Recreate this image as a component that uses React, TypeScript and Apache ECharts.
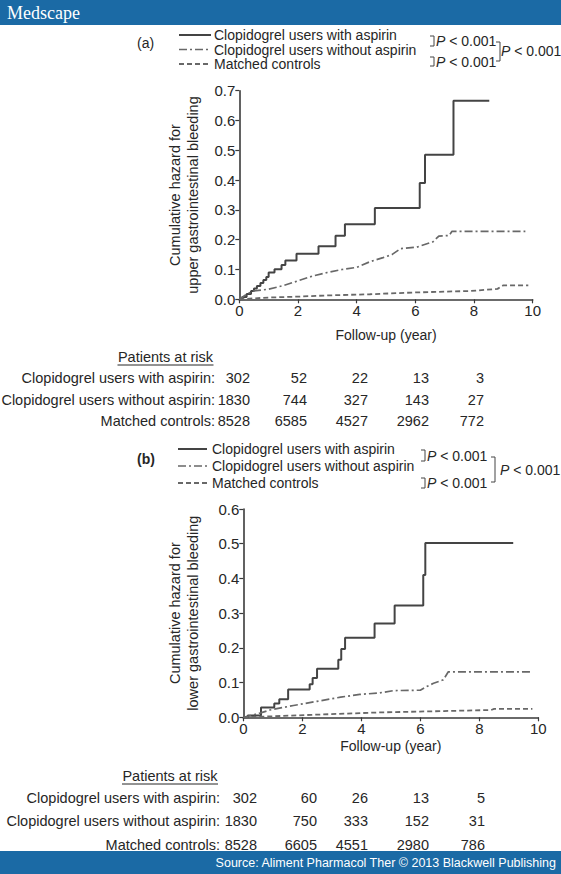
import React, { useEffect, useRef } from "react";
import * as echarts from "echarts";

const FONT = '"Liberation Sans", Arial, Helvetica, sans-serif';
const TXT = "#262626";

// ---- data ----
const groups = [
  "Clopidogrel users with aspirin",
  "Clopidogrel users without aspirin",
  "Matched controls",
];
const pText = "P < 0.001";

// (a) upper GI bleeding
const upperWithAspirin: number[][] = [
  [0, 0], [0.1, 0.008], [0.25, 0.018], [0.4, 0.028], [0.5, 0.036], [0.6, 0.045],
  [0.72, 0.055], [0.82, 0.065], [0.92, 0.075], [1.0, 0.09], [1.2, 0.101], [1.44, 0.115],
  [1.57, 0.13], [1.95, 0.153], [2.7, 0.178], [3.28, 0.213], [3.6, 0.252], [4.62, 0.306],
  [6.15, 0.39], [6.33, 0.485], [7.3, 0.666], [8.52, 0.666],
];
const upperWithoutAspirin: number[][] = [
  [0, 0], [0.3, 0.02], [0.5, 0.028], [1.0, 0.034], [1.5, 0.046], [2.0, 0.062],
  [2.5, 0.078], [3.0, 0.09], [3.5, 0.1], [4.0, 0.107], [4.45, 0.126], [4.9, 0.14],
  [5.2, 0.15], [5.5, 0.17], [6.05, 0.175], [6.6, 0.193], [6.8, 0.212], [7.15, 0.214],
  [7.25, 0.228], [9.75, 0.228],
];
const upperControls: number[][] = [
  [0, 0], [0.5, 0.003], [1, 0.006], [2, 0.009], [3, 0.013], [4.45, 0.017],
  [6, 0.023], [7.9, 0.028], [8.8, 0.035], [9.0, 0.047], [9.85, 0.047],
];
const upperRiskWith = [302, 52, 22, 13, 3];
const upperRiskWithout = [1830, 744, 327, 143, 27];
const upperRiskControls = [8528, 6585, 4527, 2962, 772];

// (b) lower GI bleeding
const lowerWithAspirin: number[][] = [
  [0, 0], [0.15, 0.005], [0.6, 0.028], [1.05, 0.04], [1.22, 0.052], [1.52, 0.08],
  [2.25, 0.095], [2.35, 0.113], [2.5, 0.14], [3.22, 0.166], [3.32, 0.197], [3.45, 0.229],
  [4.45, 0.27], [5.13, 0.322], [6.1, 0.41], [6.17, 0.502], [9.15, 0.502],
];
const lowerWithoutAspirin: number[][] = [
  [0, 0], [0.3, 0.006], [0.56, 0.012], [0.9, 0.021], [1.7, 0.034], [2.5, 0.046],
  [3.3, 0.058], [3.95, 0.066], [4.6, 0.07], [5.1, 0.077], [6.0, 0.078], [6.2, 0.088],
  [6.45, 0.098], [6.78, 0.108], [6.95, 0.131], [9.8, 0.131],
];
const lowerControls: number[][] = [
  [0, 0], [1, 0.003], [2.3, 0.007], [4.6, 0.014], [6.8, 0.018], [8.4, 0.021],
  [8.5, 0.024], [9.8, 0.024],
];
const lowerRiskWith = [302, 60, 26, 13, 5];
const lowerRiskWithout = [1830, 750, 333, 152, 31];
const lowerRiskControls = [8528, 6605, 4551, 2980, 786];

// ---- styles ----
const SOLID = { color: "#444444", width: 2, type: "solid" as any };
const DASHDOT = { color: "#686868", width: 1.7, type: [8, 3, 2, 3] as any };
const DASHED = { color: "#686868", width: 1.8, type: [5, 3] as any };

function txt(x: number, y: number, text: string, o: any = {}) {
  return {
    type: "text",
    x,
    y,
    z: o.z ?? 10,
    style: {
      text,
      fill: o.fill ?? TXT,
      fontSize: o.size ?? 14,
      fontFamily: o.family ?? FONT,
      fontWeight: o.weight ?? "normal",
      align: o.align ?? "left",
      textAlign: o.align ?? "left",
      verticalAlign: "middle",
      textVerticalAlign: "middle",
      rich: o.rich,
    },
  };
}

function pVal(x: number, y: number, size: number) {
  return txt(x, y, "{i|P}" + pText.slice(1), {
    size,
    rich: { i: { fontStyle: "italic", fontSize: size, fontFamily: FONT, fill: TXT } },
  });
}

function bracket(x1: number, x2: number, y1: number, y2: number) {
  return {
    type: "polyline",
    z: 10,
    shape: { points: [[x1, y1], [x2, y1], [x2, y2], [x1, y2]] },
    style: { stroke: "#444", lineWidth: 1, fill: "none" },
  };
}

function sample(x1: number, x2: number, y: number, ls: any) {
  return {
    type: "line",
    z: 10,
    shape: { x1, y1: y, x2, y2: y },
    style: {
      stroke: ls.color,
      lineWidth: ls.width,
      lineDash: Array.isArray(ls.type) ? ls.type : null,
    },
  };
}

function legendBlock(
  tag: string, tagBold: boolean, lineX1: number, lineX2: number, textX: number,
  rows: number[], size: number,
  br: { sx: number; p1y: number; p2y: number; b1: number[]; b2: number[]; bx: number; p3x: number; p3y: number }
) {
  const styles = [SOLID, DASHDOT, DASHED];
  const els: any[] = [txt(137, (rows[0] + rows[1]) / 2 + 1, tag, { size, weight: tagBold ? "bold" : "normal" })];
  groups.forEach((g, i) => {
    els.push(sample(lineX1, lineX2, rows[i], styles[i]));
    els.push(txt(textX, rows[i], g, { size }));
  });
  els.push(bracket(br.sx, br.sx + 4, br.b1[0], br.b1[1]));
  els.push(bracket(br.sx, br.sx + 4, br.b2[0], br.b2[1]));
  els.push(pVal(br.sx + 6, br.p1y, size));
  els.push(pVal(br.sx + 6, br.p2y, size));
  els.push(bracket(br.bx, br.bx + 4, br.p1y + 1, br.p2y - 1));
  els.push(pVal(br.p3x, br.p3y, size));
  return els;
}

function riskTable(
  titleX: number, titleY: number, labelRight: number, numRights: number[], rowsY: number[],
  size: number, vals: number[][]
) {
  const els: any[] = [];
  els.push(txt(titleX, titleY, "Patients at risk", { size, align: "center" }));
  els.push({
    type: "line",
    z: 10,
    shape: { x1: titleX - 48, y1: titleY + 8, x2: titleX + 48, y2: titleY + 8 },
    style: { stroke: TXT, lineWidth: 1 },
  });
  groups.forEach((g, i) => {
    els.push(txt(labelRight, rowsY[i], g + ":", { size, align: "right" }));
    vals[i].forEach((v, j) => {
      els.push(txt(numRights[j], rowsY[i], String(v), { size, align: "right" }));
    });
  });
  return els;
}

function xAxisCfg(gridIndex: number, nameGap: number) {
  return {
    type: "value",
    gridIndex,
    min: 0,
    max: 10,
    interval: 2,
    name: "Follow-up (year)",
    nameLocation: "middle",
    nameGap,
    nameTextStyle: { fontSize: 14, color: TXT, fontFamily: FONT },
    axisLine: { show: true, onZero: false, lineStyle: { color: "#3a3a3a", width: 1.6 } },
    axisTick: { show: true, length: 4, lineStyle: { color: "#3a3a3a", width: 1.2 } },
    axisLabel: { fontSize: 15, color: TXT, fontFamily: FONT, margin: 4 },
    splitLine: { show: false },
  };
}

function yAxisCfg(gridIndex: number, max: number, name: string, nameGap: number) {
  return {
    type: "value",
    gridIndex,
    min: 0,
    max,
    interval: 0.1,
    name,
    nameLocation: "middle",
    nameGap,
    nameTextStyle: { fontSize: 14.5, color: TXT, fontFamily: FONT, lineHeight: 18 },
    axisLine: { show: true, lineStyle: { color: "#3a3a3a", width: 1.6 } },
    axisTick: { show: true, length: 4, lineStyle: { color: "#3a3a3a", width: 1.2 } },
    axisLabel: {
      fontSize: 15,
      color: TXT,
      fontFamily: FONT,
      margin: 4,
      formatter: (v: number) => v.toFixed(1),
    },
    splitLine: { show: false },
  };
}

function line(name: string, data: number[][], ls: any, idx: number, step: boolean) {
  return {
    type: "line",
    name,
    xAxisIndex: idx,
    yAxisIndex: idx,
    data,
    step: step ? "end" : false,
    showSymbol: false,
    symbol: "none",
    lineStyle: ls,
    silent: true,
  };
}

export default function App() {
  const ref = useRef<HTMLDivElement>(null);
  useEffect(() => {
    const chart = echarts.init(ref.current!, null, { renderer: "svg" });
    const graphics: any[] = [
      // header
      { type: "rect", z: 20, shape: { x: 0, y: 0, width: 561, height: 25 }, style: { fill: "#1b6aa5" } },
      txt(7, 13, "Medscape", { size: 18, family: '"Liberation Serif", "Times New Roman", serif', fill: "#fff", z: 21 }),
      // footer
      { type: "rect", z: 20, shape: { x: 0, y: 851, width: 561, height: 23 }, style: { fill: "#1b6aa5" } },
      txt(556, 862.5, "Source: Aliment Pharmacol Ther \u00a9 2013 Blackwell Publishing", {
        size: 12.5, fill: "#fff", align: "right", z: 21,
      }),
      ...legendBlock("(a)", false, 179, 211, 214, [35, 49.5, 64], 14, {
        sx: 430, p1y: 41, p2y: 62, b1: [36, 46], b2: [57, 66], bx: 496, p3x: 501, p3y: 51,
      }),
      ...legendBlock("(b)", true, 178, 207, 212, [449, 466, 483], 14, {
        sx: 421, p1y: 456, p2y: 483, b1: [450, 461], b2: [478, 488], bx: 491, p3x: 500, p3y: 470,
      }),
      ...riskTable(165.5, 357, 215, [250, 307, 368, 429, 484], [378, 400, 421], 14.5, [
        upperRiskWith, upperRiskWithout, upperRiskControls,
      ]),
      ...riskTable(170, 776, 220, [257, 317, 368, 429, 485], [798, 821, 845], 14.5, [
        lowerRiskWith, lowerRiskWithout, lowerRiskControls,
      ]),
    ];
    const option: any = {
      animation: false,
      backgroundColor: "#ffffff",
      grid: [
        { left: 239.3, top: 90.7, width: 293.4, height: 208.6 },
        { left: 243.3, top: 509, width: 295, height: 208.3 },
      ],
      xAxis: [xAxisCfg(0, 29), xAxisCfg(1, 22)],
      yAxis: [
        yAxisCfg(0, 0.7, "Cumulative hazard for\nupper gastrointestinal bleeding", 37),
        yAxisCfg(1, 0.6, "Cumulative hazard for\nlower gastrointestinal bleeding", 41),
      ],
      series: [
        line(groups[0], upperWithAspirin, SOLID, 0, true),
        line(groups[1], upperWithoutAspirin, DASHDOT, 0, false),
        line(groups[2], upperControls, DASHED, 0, false),
        line(groups[0], lowerWithAspirin, SOLID, 1, true),
        line(groups[1], lowerWithoutAspirin, DASHDOT, 1, false),
        line(groups[2], lowerControls, DASHED, 1, false),
      ],
      graphic: graphics,
    };
    chart.setOption(option);
    return () => chart.dispose();
  }, []);
  return (
    <div
      ref={ref}
      style={{ position: "absolute", left: 0, top: 0, width: 561, height: 874, background: "#fff" }}
    />
  );
}
